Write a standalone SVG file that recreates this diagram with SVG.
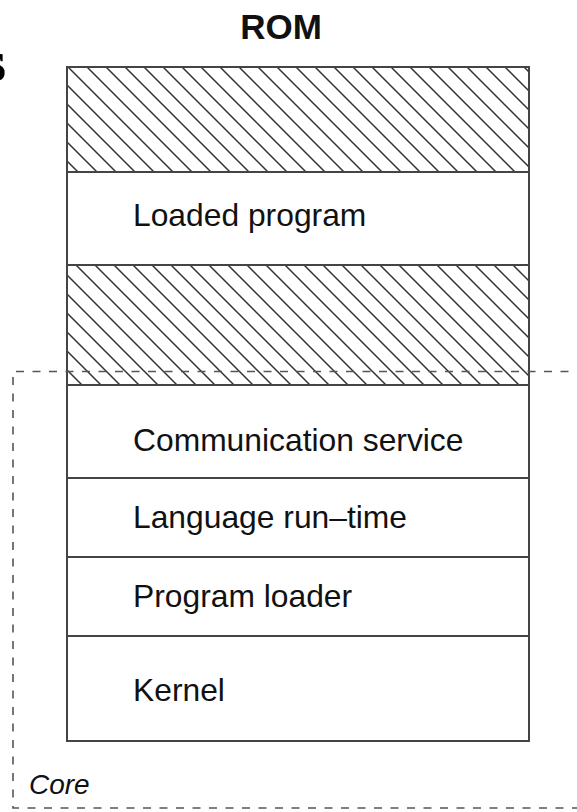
<svg xmlns="http://www.w3.org/2000/svg" width="577" height="812" viewBox="0 0 577 812">
  <style>
    .lbl { font-family: "Liberation Sans", Arial, sans-serif; font-size: 31.8px; fill: #111; }
    .band { fill: #fff; stroke: #444; stroke-width: 2; }
    .hatch { fill: url(#hatch); stroke: #444; stroke-width: 2; }
    .core { fill: none; stroke: #555; stroke-width: 1.6; stroke-dasharray: 8 8.5; }
  </style>
  <defs>
    <pattern id="hatch" patternUnits="userSpaceOnUse" x="68" y="67" width="19" height="19">
      <rect width="19" height="19" fill="#fff"/>
      <path d="M0,0 L19,19 M-2,17 L2,21 M17,-2 L21,2" stroke="#333" stroke-width="1.5"/>
    </pattern>
  </defs>
  <rect width="577" height="812" fill="#fff"/>

  <text x="6" y="81" text-anchor="end" font-family="Liberation Serif, serif" font-weight="bold" font-size="60" fill="#000">s</text>

  <text x="281" y="39" text-anchor="middle" font-family="Liberation Sans, Arial, sans-serif" font-weight="bold" font-size="35" fill="#111">ROM</text>

  <g id="hatched-top"><rect class="hatch" x="67" y="67" width="462" height="105"/></g>
  <g id="loaded-program"><rect class="band" x="67" y="172" width="462" height="93"/><text class="lbl" x="133" y="226">Loaded program</text></g>
  <g id="hatched-mid"><rect class="hatch" x="67" y="265" width="462" height="120"/></g>
  <g id="communication-service"><rect class="band" x="67" y="385" width="462" height="93"/><text class="lbl" x="133" y="451">Communication service</text></g>
  <g id="language-runtime"><rect class="band" x="67" y="478" width="462" height="79"/><text class="lbl" x="133" y="528">Language run–time</text></g>
  <g id="program-loader"><rect class="band" x="67" y="557" width="462" height="79"/><text class="lbl" x="133" y="607">Program loader</text></g>
  <g id="kernel"><rect class="band" x="67" y="636" width="462" height="105"/><text class="lbl" x="133" y="701">Kernel</text></g>

  <g id="core">
    <path class="core" d="M585,371.5 L13,371.5 L13,808 L585,808"/>
    <text x="29" y="794" font-family="Liberation Sans, Arial, sans-serif" font-style="italic" font-size="28" fill="#111">Core</text>
  </g>
</svg>
